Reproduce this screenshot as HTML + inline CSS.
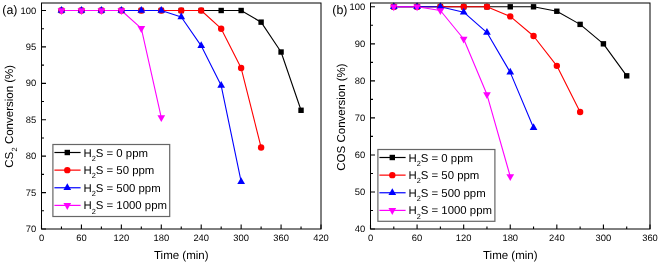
<!DOCTYPE html>
<html><head><meta charset="utf-8"><style>
html,body{margin:0;padding:0;background:#fff;width:660px;height:264px;overflow:hidden}
svg{display:block;will-change:transform;font-family:"Liberation Sans", sans-serif;text-rendering:geometricPrecision}
</style></head><body>
<svg width="660" height="264" viewBox="0 0 660 264" fill="#000">
<polyline points="61.46,10.5 81.43,10.5 101.39,10.5 121.36,10.5 141.32,10.5 161.29,10.5 181.25,10.5 201.21,10.5 221.18,10.5 241.14,10.5 261.11,22.15 281.07,52.02 301.04,110.28" fill="none" stroke="#000000" stroke-width="1.1" stroke-linejoin="round"/>
<polyline points="61.46,10.5 81.43,10.5 101.39,10.5 121.36,10.5 141.32,10.5 161.29,10.5 181.25,10.5 201.21,10.5 221.18,28.71 241.14,68.04 261.11,147.43" fill="none" stroke="#ff0000" stroke-width="1.1" stroke-linejoin="round"/>
<polyline points="61.46,10.5 81.43,10.5 101.39,10.5 121.36,10.5 141.32,10.5 161.29,10.5 181.25,17.06 201.21,45.82 221.18,85.52 241.14,181.66" fill="none" stroke="#0000ff" stroke-width="1.1" stroke-linejoin="round"/>
<polyline points="61.46,10.5 81.43,10.5 101.39,10.5 121.36,10.5 141.32,28.34 161.29,117.57" fill="none" stroke="#ff00ff" stroke-width="1.1" stroke-linejoin="round"/>
<rect x="58.76" y="7.8" width="5.4" height="5.4" fill="#000000"/>
<rect x="78.73" y="7.8" width="5.4" height="5.4" fill="#000000"/>
<rect x="98.69" y="7.8" width="5.4" height="5.4" fill="#000000"/>
<rect x="118.66" y="7.8" width="5.4" height="5.4" fill="#000000"/>
<rect x="138.62" y="7.8" width="5.4" height="5.4" fill="#000000"/>
<rect x="158.59" y="7.8" width="5.4" height="5.4" fill="#000000"/>
<rect x="178.55" y="7.8" width="5.4" height="5.4" fill="#000000"/>
<rect x="198.51" y="7.8" width="5.4" height="5.4" fill="#000000"/>
<rect x="218.48" y="7.8" width="5.4" height="5.4" fill="#000000"/>
<rect x="238.44" y="7.8" width="5.4" height="5.4" fill="#000000"/>
<rect x="258.41" y="19.45" width="5.4" height="5.4" fill="#000000"/>
<rect x="278.37" y="49.32" width="5.4" height="5.4" fill="#000000"/>
<rect x="298.34" y="107.58" width="5.4" height="5.4" fill="#000000"/>
<circle cx="61.46" cy="10.5" r="3.2" fill="#ff0000"/>
<circle cx="81.43" cy="10.5" r="3.2" fill="#ff0000"/>
<circle cx="101.39" cy="10.5" r="3.2" fill="#ff0000"/>
<circle cx="121.36" cy="10.5" r="3.2" fill="#ff0000"/>
<circle cx="141.32" cy="10.5" r="3.2" fill="#ff0000"/>
<circle cx="161.29" cy="10.5" r="3.2" fill="#ff0000"/>
<circle cx="181.25" cy="10.5" r="3.2" fill="#ff0000"/>
<circle cx="201.21" cy="10.5" r="3.2" fill="#ff0000"/>
<circle cx="221.18" cy="28.71" r="3.2" fill="#ff0000"/>
<circle cx="241.14" cy="68.04" r="3.2" fill="#ff0000"/>
<circle cx="261.11" cy="147.43" r="3.2" fill="#ff0000"/>
<path d="M61.46,5.97L65.31,12.77L57.61,12.77Z" fill="#0000ff"/>
<path d="M81.43,5.97L85.28,12.77L77.58,12.77Z" fill="#0000ff"/>
<path d="M101.39,5.97L105.24,12.77L97.54,12.77Z" fill="#0000ff"/>
<path d="M121.36,5.97L125.21,12.77L117.51,12.77Z" fill="#0000ff"/>
<path d="M141.32,5.97L145.17,12.77L137.47,12.77Z" fill="#0000ff"/>
<path d="M161.29,5.97L165.14,12.77L157.44,12.77Z" fill="#0000ff"/>
<path d="M181.25,12.52L185.1,19.32L177.4,19.32Z" fill="#0000ff"/>
<path d="M201.21,41.29L205.06,48.09L197.36,48.09Z" fill="#0000ff"/>
<path d="M221.18,80.99L225.03,87.79L217.33,87.79Z" fill="#0000ff"/>
<path d="M241.14,177.13L244.99,183.93L237.29,183.93Z" fill="#0000ff"/>
<path d="M61.46,15.03L65.31,8.23L57.61,8.23Z" fill="#ff00ff"/>
<path d="M81.43,15.03L85.28,8.23L77.58,8.23Z" fill="#ff00ff"/>
<path d="M101.39,15.03L105.24,8.23L97.54,8.23Z" fill="#ff00ff"/>
<path d="M121.36,15.03L125.21,8.23L117.51,8.23Z" fill="#ff00ff"/>
<path d="M141.32,32.88L145.17,26.08L137.47,26.08Z" fill="#ff00ff"/>
<path d="M161.29,122.1L165.14,115.3L157.44,115.3Z" fill="#ff00ff"/>
<path d="M41.5,229v-4.5 M81.43,229v-4.5 M121.36,229v-4.5 M161.29,229v-4.5 M201.21,229v-4.5 M241.14,229v-4.5 M281.07,229v-4.5 M321,229v-4.5 M61.46,229v-2.5 M101.39,229v-2.5 M141.32,229v-2.5 M181.25,229v-2.5 M221.18,229v-2.5 M261.11,229v-2.5 M301.04,229v-2.5 M41.5,229h4.5 M41.5,192.58h4.5 M41.5,156.17h4.5 M41.5,119.75h4.5 M41.5,83.33h4.5 M41.5,46.92h4.5 M41.5,10.5h4.5 M41.5,210.79h2.5 M41.5,174.38h2.5 M41.5,137.96h2.5 M41.5,101.54h2.5 M41.5,65.13h2.5 M41.5,28.71h2.5" stroke="#000" stroke-width="1.1" fill="none"/>
<rect x="41.5" y="3" width="279.5" height="226" fill="none" stroke="#000" stroke-width="1.0"/>
<text x="41.5" y="241.4" font-size="9.4" text-anchor="middle">0</text>
<text x="81.43" y="241.4" font-size="9.4" text-anchor="middle">60</text>
<text x="121.36" y="241.4" font-size="9.4" text-anchor="middle">120</text>
<text x="161.29" y="241.4" font-size="9.4" text-anchor="middle">180</text>
<text x="201.21" y="241.4" font-size="9.4" text-anchor="middle">240</text>
<text x="241.14" y="241.4" font-size="9.4" text-anchor="middle">300</text>
<text x="281.07" y="241.4" font-size="9.4" text-anchor="middle">360</text>
<text x="321" y="241.4" font-size="9.4" text-anchor="middle">420</text>
<text x="36.2" y="232" font-size="9.4" text-anchor="end">70</text>
<text x="36.2" y="195.58" font-size="9.4" text-anchor="end">75</text>
<text x="36.2" y="159.17" font-size="9.4" text-anchor="end">80</text>
<text x="36.2" y="122.75" font-size="9.4" text-anchor="end">85</text>
<text x="36.2" y="86.33" font-size="9.4" text-anchor="end">90</text>
<text x="36.2" y="49.92" font-size="9.4" text-anchor="end">95</text>
<text x="36.2" y="13.5" font-size="9.4" text-anchor="end">100</text>
<text x="181.25" y="258.8" font-size="11.5" text-anchor="middle">Time (min)</text>
<text transform="translate(12.5,116.3) rotate(-90)" font-size="11.5" text-anchor="middle">CS<tspan font-size="7.5" dy="4.1" dx="0.2">2</tspan><tspan dy="-4.1" dx="0.1"> Conversion (%)</tspan></text>
<text x="2.3" y="13.9" font-size="12.4">(a)</text>
<rect x="52.9" y="144.5" width="116.8" height="72" fill="#fff" stroke="#666" stroke-width="1.2"/>
<line x1="54.4" y1="152.5" x2="80.6" y2="152.5" stroke="#000000" stroke-width="1.2"/>
<rect x="64.6" y="149.8" width="5.4" height="5.4" fill="#000000"/>
<text x="83.4" y="156.6" font-size="11.4">H<tspan font-size="7.4" dy="4.1">2</tspan><tspan dy="-4.1">S = 0 ppm</tspan></text>
<line x1="54.4" y1="170.13" x2="80.6" y2="170.13" stroke="#ff0000" stroke-width="1.2"/>
<circle cx="67.3" cy="170.13" r="3.2" fill="#ff0000"/>
<text x="83.4" y="174.23" font-size="11.4">H<tspan font-size="7.4" dy="4.1">2</tspan><tspan dy="-4.1">S = 50 ppm</tspan></text>
<line x1="54.4" y1="187.76" x2="80.6" y2="187.76" stroke="#0000ff" stroke-width="1.2"/>
<path d="M67.3,183.23L71.15,190.03L63.45,190.03Z" fill="#0000ff"/>
<text x="83.4" y="191.86" font-size="11.4">H<tspan font-size="7.4" dy="4.1">2</tspan><tspan dy="-4.1">S = 500 ppm</tspan></text>
<line x1="54.4" y1="205.39" x2="80.6" y2="205.39" stroke="#ff00ff" stroke-width="1.2"/>
<path d="M67.3,209.92L71.15,203.12L63.45,203.12Z" fill="#ff00ff"/>
<text x="83.4" y="209.49" font-size="11.4">H<tspan font-size="7.4" dy="4.1">2</tspan><tspan dy="-4.1">S = 1000 ppm</tspan></text>
<polyline points="393.79,6.8 417.08,6.8 440.38,6.8 463.67,6.8 486.96,6.8 510.25,6.8 533.54,6.8 556.83,11.24 580.12,24.39 603.42,43.83 626.71,75.83" fill="none" stroke="#000000" stroke-width="1.1" stroke-linejoin="round"/>
<polyline points="393.79,6.8 417.08,6.8 440.38,6.8 463.67,6.8 486.96,6.8 510.25,16.39 533.54,35.98 556.83,65.83 580.12,111.97" fill="none" stroke="#ff0000" stroke-width="1.1" stroke-linejoin="round"/>
<polyline points="393.79,6.8 417.08,6.8 440.38,6.8 463.67,12.17 486.96,32.54 510.25,72.35 533.54,127.79" fill="none" stroke="#0000ff" stroke-width="1.1" stroke-linejoin="round"/>
<polyline points="393.79,6.8 417.08,6.8 440.38,10.5 463.67,39.02 486.96,94.57 510.25,176.49" fill="none" stroke="#ff00ff" stroke-width="1.1" stroke-linejoin="round"/>
<rect x="391.09" y="4.1" width="5.4" height="5.4" fill="#000000"/>
<rect x="414.38" y="4.1" width="5.4" height="5.4" fill="#000000"/>
<rect x="437.68" y="4.1" width="5.4" height="5.4" fill="#000000"/>
<rect x="460.97" y="4.1" width="5.4" height="5.4" fill="#000000"/>
<rect x="484.26" y="4.1" width="5.4" height="5.4" fill="#000000"/>
<rect x="507.55" y="4.1" width="5.4" height="5.4" fill="#000000"/>
<rect x="530.84" y="4.1" width="5.4" height="5.4" fill="#000000"/>
<rect x="554.13" y="8.54" width="5.4" height="5.4" fill="#000000"/>
<rect x="577.42" y="21.69" width="5.4" height="5.4" fill="#000000"/>
<rect x="600.72" y="41.13" width="5.4" height="5.4" fill="#000000"/>
<rect x="624.01" y="73.13" width="5.4" height="5.4" fill="#000000"/>
<circle cx="393.79" cy="6.8" r="3.2" fill="#ff0000"/>
<circle cx="417.08" cy="6.8" r="3.2" fill="#ff0000"/>
<circle cx="440.38" cy="6.8" r="3.2" fill="#ff0000"/>
<circle cx="463.67" cy="6.8" r="3.2" fill="#ff0000"/>
<circle cx="486.96" cy="6.8" r="3.2" fill="#ff0000"/>
<circle cx="510.25" cy="16.39" r="3.2" fill="#ff0000"/>
<circle cx="533.54" cy="35.98" r="3.2" fill="#ff0000"/>
<circle cx="556.83" cy="65.83" r="3.2" fill="#ff0000"/>
<circle cx="580.12" cy="111.97" r="3.2" fill="#ff0000"/>
<path d="M393.79,2.27L397.64,9.07L389.94,9.07Z" fill="#0000ff"/>
<path d="M417.08,2.27L420.93,9.07L413.23,9.07Z" fill="#0000ff"/>
<path d="M440.38,2.27L444.23,9.07L436.52,9.07Z" fill="#0000ff"/>
<path d="M463.67,7.64L467.52,14.44L459.82,14.44Z" fill="#0000ff"/>
<path d="M486.96,28L490.81,34.8L483.11,34.8Z" fill="#0000ff"/>
<path d="M510.25,67.82L514.1,74.62L506.4,74.62Z" fill="#0000ff"/>
<path d="M533.54,123.25L537.39,130.05L529.69,130.05Z" fill="#0000ff"/>
<path d="M393.79,11.33L397.64,4.53L389.94,4.53Z" fill="#ff00ff"/>
<path d="M417.08,11.33L420.93,4.53L413.23,4.53Z" fill="#ff00ff"/>
<path d="M440.38,15.04L444.23,8.24L436.52,8.24Z" fill="#ff00ff"/>
<path d="M463.67,43.55L467.52,36.75L459.82,36.75Z" fill="#ff00ff"/>
<path d="M486.96,99.1L490.81,92.3L483.11,92.3Z" fill="#ff00ff"/>
<path d="M510.25,181.02L514.1,174.22L506.4,174.22Z" fill="#ff00ff"/>
<path d="M370.5,229v-4.5 M417.08,229v-4.5 M463.67,229v-4.5 M510.25,229v-4.5 M556.83,229v-4.5 M603.42,229v-4.5 M650,229v-4.5 M393.79,229v-2.5 M440.38,229v-2.5 M486.96,229v-2.5 M533.54,229v-2.5 M580.12,229v-2.5 M626.71,229v-2.5 M370.5,229h4.5 M370.5,191.97h4.5 M370.5,154.93h4.5 M370.5,117.9h4.5 M370.5,80.87h4.5 M370.5,43.83h4.5 M370.5,6.8h4.5 M370.5,210.48h2.5 M370.5,173.45h2.5 M370.5,136.42h2.5 M370.5,99.38h2.5 M370.5,62.35h2.5 M370.5,25.32h2.5" stroke="#000" stroke-width="1.1" fill="none"/>
<rect x="370.5" y="3" width="279.5" height="226" fill="none" stroke="#000" stroke-width="1.0"/>
<text x="370.5" y="241.4" font-size="9.4" text-anchor="middle">0</text>
<text x="417.08" y="241.4" font-size="9.4" text-anchor="middle">60</text>
<text x="463.67" y="241.4" font-size="9.4" text-anchor="middle">120</text>
<text x="510.25" y="241.4" font-size="9.4" text-anchor="middle">180</text>
<text x="556.83" y="241.4" font-size="9.4" text-anchor="middle">240</text>
<text x="603.42" y="241.4" font-size="9.4" text-anchor="middle">300</text>
<text x="650" y="241.4" font-size="9.4" text-anchor="middle">360</text>
<text x="365.2" y="232" font-size="9.4" text-anchor="end">40</text>
<text x="365.2" y="194.97" font-size="9.4" text-anchor="end">50</text>
<text x="365.2" y="157.93" font-size="9.4" text-anchor="end">60</text>
<text x="365.2" y="120.9" font-size="9.4" text-anchor="end">70</text>
<text x="365.2" y="83.87" font-size="9.4" text-anchor="end">80</text>
<text x="365.2" y="46.83" font-size="9.4" text-anchor="end">90</text>
<text x="365.2" y="9.8" font-size="9.4" text-anchor="end">100</text>
<text x="510.25" y="258.8" font-size="11.5" text-anchor="middle">Time (min)</text>
<text transform="translate(344.8,117) rotate(-90)" font-size="11.5" text-anchor="middle">COS Conversion (%)</text>
<text x="332.3" y="13.9" font-size="12.4">(b)</text>
<rect x="377.9" y="149.5" width="117" height="71.8" fill="#fff" stroke="#666" stroke-width="1.2"/>
<line x1="379.4" y1="157.5" x2="405.6" y2="157.5" stroke="#000000" stroke-width="1.2"/>
<rect x="389.6" y="154.8" width="5.4" height="5.4" fill="#000000"/>
<text x="408.4" y="161.6" font-size="11.4">H<tspan font-size="7.4" dy="4.1">2</tspan><tspan dy="-4.1">S = 0 ppm</tspan></text>
<line x1="379.4" y1="175.13" x2="405.6" y2="175.13" stroke="#ff0000" stroke-width="1.2"/>
<circle cx="392.3" cy="175.13" r="3.2" fill="#ff0000"/>
<text x="408.4" y="179.23" font-size="11.4">H<tspan font-size="7.4" dy="4.1">2</tspan><tspan dy="-4.1">S = 50 ppm</tspan></text>
<line x1="379.4" y1="192.76" x2="405.6" y2="192.76" stroke="#0000ff" stroke-width="1.2"/>
<path d="M392.3,188.23L396.15,195.03L388.45,195.03Z" fill="#0000ff"/>
<text x="408.4" y="196.86" font-size="11.4">H<tspan font-size="7.4" dy="4.1">2</tspan><tspan dy="-4.1">S = 500 ppm</tspan></text>
<line x1="379.4" y1="210.39" x2="405.6" y2="210.39" stroke="#ff00ff" stroke-width="1.2"/>
<path d="M392.3,214.92L396.15,208.12L388.45,208.12Z" fill="#ff00ff"/>
<text x="408.4" y="214.49" font-size="11.4">H<tspan font-size="7.4" dy="4.1">2</tspan><tspan dy="-4.1">S = 1000 ppm</tspan></text>
</svg>
</body></html>
